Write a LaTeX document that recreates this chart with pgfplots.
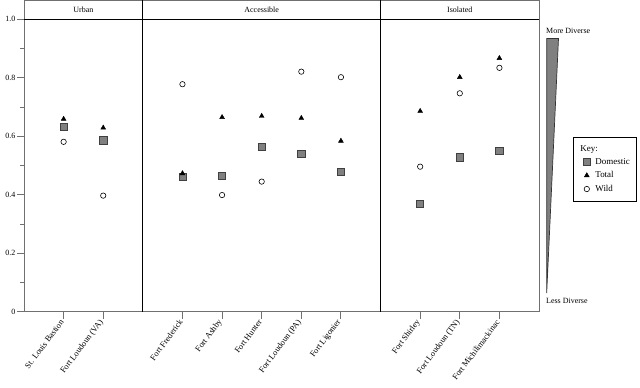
\documentclass[border=0pt]{standalone}
\usepackage{fontspec}
\setmainfont{Liberation Serif}
\usepackage{pgfplots}
\pgfplotsset{compat=1.18}
\definecolor{framegray}{HTML}{707070}
\definecolor{domfill}{HTML}{808080}
\begin{document}
\begin{tikzpicture}[x=1bp,y=1bp]
\begin{axis}[
  scale only axis, width=515bp, height=311.7bp,
  anchor=origin, at={(24bp,-311.7bp)},
  xmin=0, xmax=13, ymin=0, ymax=1.066,
  axis line style={framegray, line width=0.9pt},
  tick style={framegray, line width=0.9pt},
  tick align=outside,
  major tick length=7bp, minor tick length=4bp,
  xtick={1,2,4,5,6,7,8,10,11,12},
  xticklabels={St. Louis Bastion,Fort Loudoun (VA),Fort Frederick,Fort Ashby,Fort Hunter,Fort Loudoun (PA),Fort Ligonier,Fort Shirley,Fort Loudoun (TN),Fort Michilimackinac},
  xticklabel style={rotate=53, anchor=east, font=\fontsize{8.4}{9}\selectfont, inner sep=2.5bp},
  ytick={0,0.2,0.4,0.6,0.8,1.0},
  yticklabels={0,0.2,0.4,0.6,0.8,1.0},
  minor ytick={0.1,0.3,0.5,0.7,0.9},
  yticklabel style={font=\fontsize{8}{9}\selectfont, inner sep=1.5bp},
  xtick pos=bottom, ytick pos=left,
  clip=false,
  legend style={at={(1.066,0.5605)}, anchor=north west, draw=black, line width=0.6pt,
    font=\fontsize{9}{10}\selectfont, cells={anchor=west}, row sep=1.8bp,
    inner xsep=5bp, inner ysep=6bp},
  legend image post style={line width=0.5pt},
]
\addlegendimage{empty legend}
\addlegendentry{\hspace*{-12bp}Key:}
\addplot[only marks, mark=square*, mark size=3.6bp, mark options={fill=domfill, draw=black!75, line width=0.6pt}] coordinates {
 (1,0.632) (2,0.586) (4,0.462) (5,0.465) (6,0.564) (7,0.539) (8,0.478) (10,0.368) (11,0.528) (12,0.550)};
\addlegendentry{\hspace*{3bp}Domestic}
\addplot[only marks, mark=triangle*, mark size=2.8bp, mark options={fill=black, draw=black}] coordinates {
 (1,0.659) (2,0.629) (4,0.473) (5,0.665) (6,0.669) (7,0.662) (8,0.584) (10,0.686) (11,0.802) (12,0.867)};
\addlegendentry{\hspace*{3bp}Total}
\addplot[only marks, mark=*, mark size=2.7bp, mark options={fill=white, draw=black, line width=0.6pt}] coordinates {
 (1,0.581) (2,0.397) (4,0.778) (5,0.399) (6,0.445) (7,0.821) (8,0.802) (10,0.496) (11,0.747) (12,0.834)};
\addlegendentry{\hspace*{3bp}Wild}
\draw[black, line width=0.8pt] (axis cs:0,1) -- (axis cs:13,1);
\draw[black, line width=0.8pt] (axis cs:3,0) -- (axis cs:3,1.066);
\draw[black, line width=0.8pt] (axis cs:9,0) -- (axis cs:9,1.066);
\node[font=\fontsize{8}{9}\selectfont] at (axis cs:1.5,1.033) {Urban};
\node[font=\fontsize{8}{9}\selectfont] at (axis cs:6,1.033) {Accessible};
\node[font=\fontsize{8}{9}\selectfont] at (axis cs:11,1.033) {Isolated};
\end{axis}
\filldraw[fill=domfill, draw=black!80, line width=0.7pt] (546.7,-38.5) -- (558.5,-38.5) -- (546.7,-293) -- cycle;
\node[anchor=west, inner sep=0, font=\fontsize{8}{9}\selectfont] at (546,-31) {More Diverse};
\node[anchor=west, inner sep=0, font=\fontsize{8}{9}\selectfont] at (546,-301) {Less Diverse};
\pgfresetboundingbox
\path[use as bounding box] (0,0) rectangle (640,-387);
\end{tikzpicture}
\end{document}
